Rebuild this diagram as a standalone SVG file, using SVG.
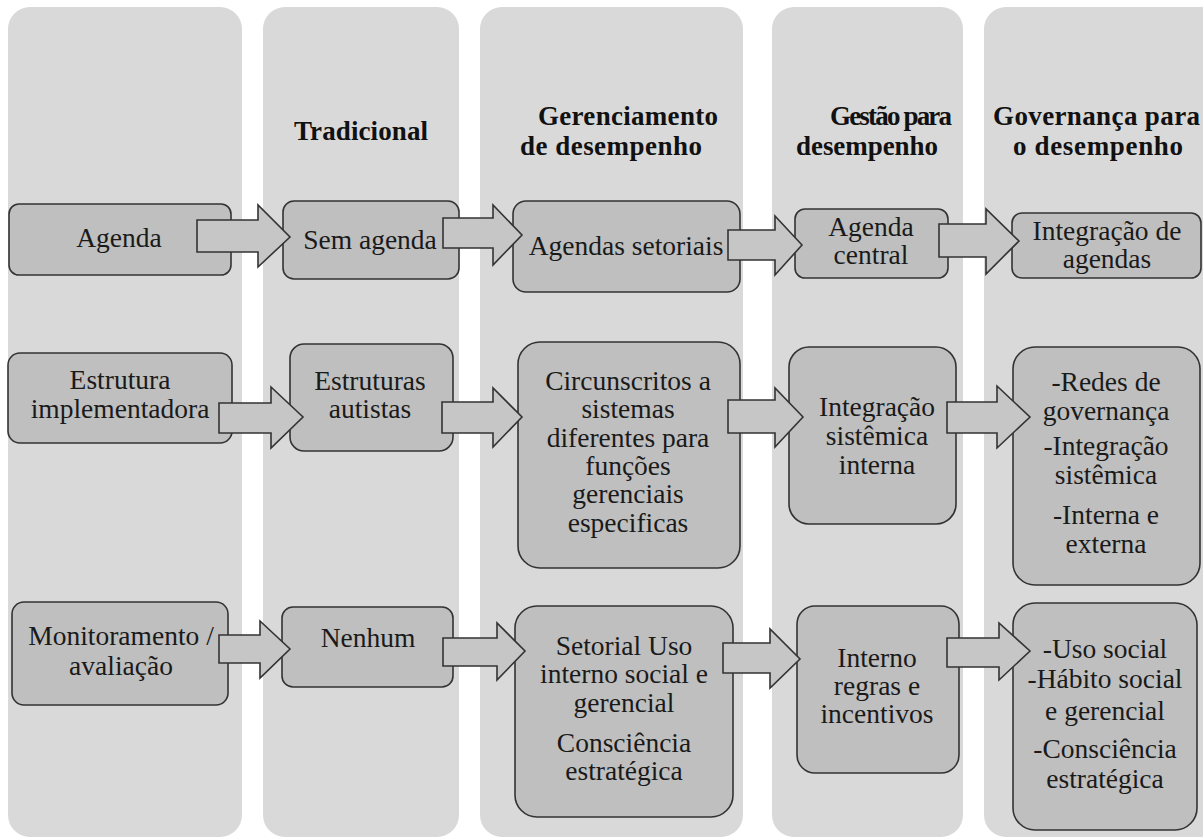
<svg xmlns="http://www.w3.org/2000/svg" width="1203" height="838" viewBox="0 0 1203 838">
<style>
.panel{fill:#d9d9d9}
.node{fill:#bfbfbf;stroke:#333;stroke-width:1.6}
.arrow{fill:#c6c6c6;stroke:#333;stroke-width:1.6;stroke-linejoin:miter}
.hd{font-weight:bold;font-size:27px;fill:#111}
.t{font-size:27.5px;fill:#1a1a1a;text-anchor:middle}
</style>
<rect width="1203" height="838" fill="#ffffff"/>
<g id="panels">
<rect class="panel" x="8" y="7" width="234" height="830" rx="22"/>
<rect class="panel" x="263" y="7" width="196" height="830" rx="22"/>
<rect class="panel" x="480" y="7" width="263" height="830" rx="22"/>
<rect class="panel" x="772" y="7" width="191" height="830" rx="22"/>
<rect class="panel" x="984" y="7" width="250" height="830" rx="22"/>
</g>
<g font-family="Liberation Serif, DejaVu Serif, serif">
<g id="headers">
<text class="hd" x="294" y="140" textLength="134" lengthAdjust="spacing">Tradicional</text>
<text class="hd" x="538" y="125" textLength="180" lengthAdjust="spacing">Gerenciamento</text>
<text class="hd" x="520" y="155" textLength="182" lengthAdjust="spacing">de desempenho</text>
<text class="hd" x="830" y="125" textLength="122" lengthAdjust="spacing">Gestão para</text>
<text class="hd" x="796" y="155" textLength="142" lengthAdjust="spacing">desempenho</text>
<text class="hd" x="993" y="125" textLength="207" lengthAdjust="spacing">Governança para</text>
<text class="hd" x="1013" y="155" textLength="170" lengthAdjust="spacing">o desempenho</text>
</g>
<g id="n-agenda"><rect class="node" x="9" y="204" width="222" height="71" rx="10"/><text class="t" x="119" y="247">Agenda</text></g>
<g id="n-sem-agenda"><rect class="node" x="283" y="201" width="176" height="78" rx="11"/><text class="t" x="370" y="249">Sem agenda</text></g>
<g id="n-agendas-setoriais"><rect class="node" x="513" y="201" width="227" height="91" rx="13"/><text class="t" x="626" y="255">Agendas setoriais</text></g>
<g id="n-agenda-central"><rect class="node" x="795" y="209" width="153" height="69" rx="10"/><text class="t" x="871" y="236">Agenda</text><text class="t" x="871" y="264">central</text></g>
<g id="n-integracao-agendas"><rect class="node" x="1012" y="213" width="189" height="65" rx="10"/><text class="t" x="1107" y="240">Integração de</text><text class="t" x="1107" y="268">agendas</text></g>
<g id="n-estrutura"><rect class="node" x="8" y="353" width="224" height="90" rx="12"/><text class="t" x="120" y="389">Estrutura</text><text class="t" x="120" y="418">implementadora</text></g>
<g id="n-estruturas-autistas"><rect class="node" x="290" y="344" width="163" height="107" rx="14"/><text class="t" x="370" y="390">Estruturas</text><text class="t" x="370" y="418">autistas</text></g>
<g id="n-circunscritos"><rect class="node" x="518" y="342" width="222" height="226" rx="22"/><text class="t" x="628" y="390">Circunscritos a</text><text class="t" x="628" y="418">sistemas</text><text class="t" x="628" y="447">diferentes para</text><text class="t" x="628" y="475">funções</text><text class="t" x="628" y="503">gerenciais</text><text class="t" x="628" y="532">especificas</text></g>
<g id="n-integracao-sistemica"><rect class="node" x="789" y="347" width="167" height="177" rx="20"/><text class="t" x="877" y="416">Integração</text><text class="t" x="877" y="445">sistêmica</text><text class="t" x="877" y="474">interna</text></g>
<g id="n-redes"><rect class="node" x="1013" y="347" width="187" height="238" rx="22"/><text class="t" x="1106" y="391">-Redes de</text><text class="t" x="1106" y="420">governança</text><text class="t" x="1106" y="455">-Integração</text><text class="t" x="1106" y="484">sistêmica</text><text class="t" x="1106" y="524">-Interna e</text><text class="t" x="1106" y="553">externa</text></g>
<g id="n-monitoramento"><rect class="node" x="12" y="602" width="216" height="103" rx="12"/><text class="t" x="121" y="645">Monitoramento /</text><text class="t" x="121" y="675">avaliação</text></g>
<g id="n-nenhum"><rect class="node" x="282" y="607" width="171" height="80" rx="11"/><text class="t" x="368" y="647">Nenhum</text></g>
<g id="n-setorial"><rect class="node" x="515" y="606" width="218" height="211" rx="22"/><text class="t" x="624" y="655">Setorial Uso</text><text class="t" x="624" y="683">interno social e</text><text class="t" x="624" y="712">gerencial</text><text class="t" x="624" y="752">Consciência</text><text class="t" x="624" y="780">estratégica</text></g>
<g id="n-interno"><rect class="node" x="797" y="606" width="162" height="167" rx="18"/><text class="t" x="877" y="667">Interno</text><text class="t" x="877" y="695">regras e</text><text class="t" x="877" y="723">incentivos</text></g>
<g id="n-uso-social"><rect class="node" x="1013" y="603" width="184" height="227" rx="22"/><text class="t" x="1105" y="658">-Uso social</text><text class="t" x="1105" y="688">-Hábito social</text><text class="t" x="1105" y="720">e gerencial</text><text class="t" x="1105" y="758">-Consciência</text><text class="t" x="1105" y="788">estratégica</text></g>
</g>
<g id="connectors">
<polygon class="arrow" points="197,220 258,220 258,205 290,237 258,267 258,252 197,252"/>
<polygon class="arrow" points="443,218 493,218 493,205 522,235 493,265 493,248 443,248"/>
<polygon class="arrow" points="728,230 775,230 775,216 802,245 775,275 775,260 728,260"/>
<polygon class="arrow" points="939,224 986,224 986,209 1019,241 986,274 986,257 939,257"/>
<polygon class="arrow" points="219,403 271,403 271,387 303,417 271,448 271,433 219,433"/>
<polygon class="arrow" points="442,402 493,402 493,388 522,417 493,447 493,433 442,433"/>
<polygon class="arrow" points="728,400 775,400 775,388 803,417 775,447 775,433 728,433"/>
<polygon class="arrow" points="947,402 997,402 997,386 1030,417 997,448 997,433 947,433"/>
<polygon class="arrow" points="219,635 260,635 260,621 290,649 260,678 260,663 219,663"/>
<polygon class="arrow" points="443,638 497,638 497,623 525,651 497,680 497,666 443,666"/>
<polygon class="arrow" points="723,643 770,643 770,629 800,659 770,688 770,673 723,673"/>
<polygon class="arrow" points="947,638 999,638 999,623 1030,651 999,680 999,667 947,667"/>
</g>
</svg>
